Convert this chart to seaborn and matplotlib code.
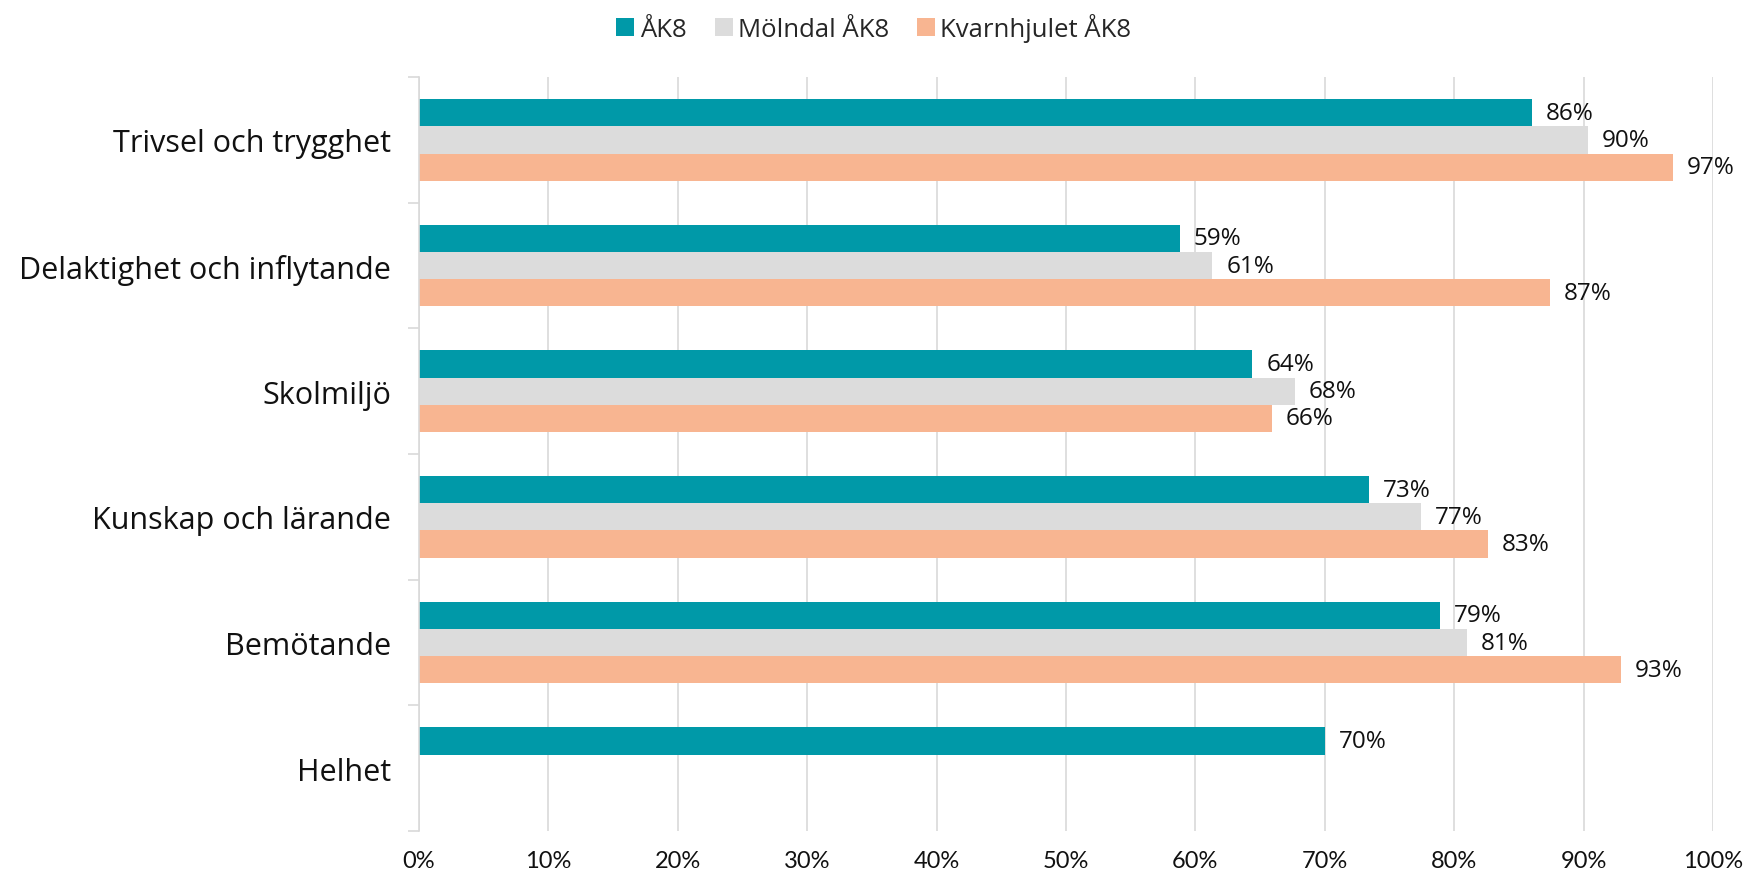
import matplotlib
matplotlib.use("Agg")
import matplotlib.pyplot as plt
import seaborn as sns
import numpy as np
import pandas as pd
from matplotlib.ticker import FuncFormatter, FixedLocator

categories = ["Trivsel och trygghet", "Delaktighet och inflytande", "Skolmiljö",
              "Kunskap och lärande", "Bemötande", "Helhet"]
series_names = ["ÅK8", "Mölndal ÅK8", "Kvarnhjulet ÅK8"]
ak8 = [86.0, 58.8, 64.4, 73.4, 78.9, 70.0]
molndal = [90.3, 61.3, 67.7, 77.4, 81.0, np.nan]
kvarnhjulet = [96.9, 87.4, 65.9, 82.6, 92.9, np.nan]
xticks = [0, 10, 20, 30, 40, 50, 60, 70, 80, 90, 100]
colors = ["#0099A8", "#DCDCDC", "#F8B591"]

rows = []
for name, vals in zip(series_names, [ak8, molndal, kvarnhjulet]):
    for c, v in zip(categories, vals):
        rows.append({"cat": c, "series": name, "value": v})
df = pd.DataFrame(rows).dropna()

sns.set_theme(style="white")
plt.rcParams["font.family"] = ["Open Sans", "DejaVu Sans"]

fig = plt.figure(figsize=(17.48, 8.78), dpi=100)
ax = fig.add_axes([0.2397, 0.0524, 0.98 - 0.2397, 0.911 - 0.0524])

sns.barplot(data=df, y="cat", x="value", hue="series", order=categories,
            hue_order=series_names, palette=colors, orient="h", width=0.65,
            ax=ax, saturation=1, linewidth=0, legend=True)

for cont in ax.containers:
    ax.bar_label(cont, labels=[f"{w:.0f}%" for w in cont.datavalues],
                 padding=10, fontsize=17.5, color="#111111")

ax.set_xlim(0, 100)
ax.set_ylim(len(categories) - 0.5, -0.5)
ax.set_xticks(xticks)
ax.xaxis.set_major_formatter(FuncFormatter(lambda v, p: f"{v:.0f}%"))
ax.tick_params(axis="x", length=0, labelsize=17, pad=14, colors="#111111")
for lab in ax.get_xticklabels():
    lab.set_family(["Lato", "DejaVu Sans"])
ax.grid(axis="x", color="#D9D9D9", linewidth=1.2)
ax.set_axisbelow(True)

ax.set_yticks(range(len(categories)))
ax.set_yticklabels(categories, fontsize=22, color="#111111")
ax.tick_params(axis="y", which="major", length=0, pad=20)
ax.yaxis.set_minor_locator(FixedLocator(np.arange(-0.5, len(categories), 1.0)))
ax.tick_params(axis="y", which="minor", length=8, width=1.2, color="#D9D9D9", left=True)

ax.set_xlabel("")
ax.set_ylabel("")
for s in ["top", "right", "bottom"]:
    ax.spines[s].set_visible(False)
ax.spines["left"].set_color("#D9D9D9")
ax.spines["left"].set_linewidth(1.2)

handles, labels = ax.get_legend_handles_labels()
ax.get_legend().remove()
fig.legend(handles, labels, loc="upper center", bbox_to_anchor=(0.5, 1.01), ncol=3,
           frameon=False, fontsize=18.5, handlelength=0.7, handleheight=0.7,
           handletextpad=0.2, columnspacing=1.1)

fig.savefig("out.png", dpi=100)
